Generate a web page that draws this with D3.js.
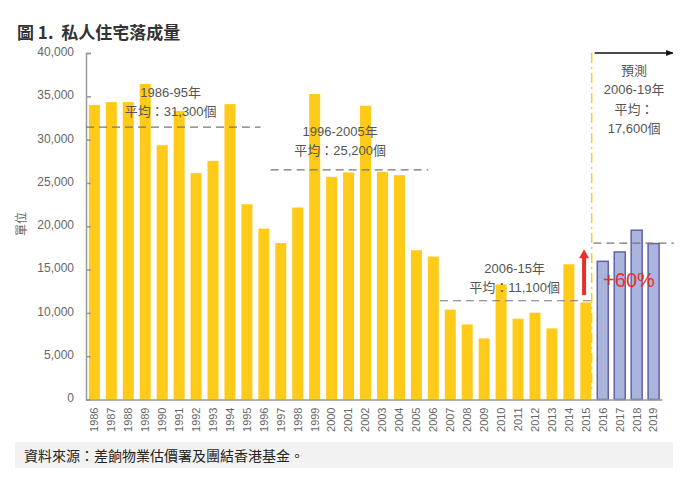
<!DOCTYPE html>
<html>
<head>
<meta charset="utf-8">
<script src="https://cdn.jsdelivr.net/npm/d3@7"></script>
<style>
  body { margin: 0; background: #fff; }
  svg { font-family: "Liberation Sans", Arial, "Noto Sans CJK TC", sans-serif; }
  .axis path, .axis line { stroke: #999; }
  .axis text { fill: #666; }
</style>
</head>
<body>
<div id="chart"></div>
<script>
/*
private housing completions, 1986-2019 (2016-19 forecast)
 */

//data:
var years = ["1986", "1987", "1988", "1989", "1990", "1991", "1992", "1993", "1994", "1995",
    "1996", "1997", "1998", "1999", "2000", "2001", "2002", "2003", "2004", "2005",
    "2006", "2007", "2008", "2009", "2010", "2011", "2012", "2013", "2014", "2015",
    "2016", "2017", "2018", "2019"];
var completions = [34000, 34330, 34330, 36420, 29360, 33290, 26130, 27550, 34100, 22540,
    19730, 18070, 22160, 35260, 25700, 26210, 33910, 26280, 25900, 17230,
    16500, 10370, 8670, 7050, 13290, 9330, 10020, 8210, 15610, 11210,
    15950, 17030, 19540, 18000];
var forecastYears = ["2016", "2017", "2018", "2019"];
var yTicks = [0, 5000, 10000, 15000, 20000, 25000, 30000, 35000, 40000];

//period averages (level = where the dashed line is drawn)
var avgPeriods = ["1986-95年", "1996-2005年", "2006-15年"];
var avgTexts = ["平均：31,300個", "平均：25,200個", "平均：11,100個"];
var avgLevels = [31450, 26500, 11400];
var avgSpans = [[1985.5, 1995.8], [1996.4, 2005.7], [2006.4, 2015.3]];
var avgLabelX = [1990.5, 2000.5, 2010.8];
var avgLabelY = [35500, 30900, 15150];

//forecast annotation
var forecastLines = ["預測", "2006-19年", "平均：", "17,600個"];
var forecastLevel = 18050;
var forecastSpan = [2015.45, 2020.2];
var forecastDivider = 2015.35;
var forecastLabelX = 2017.85;
var forecastLabelY = 37450;

//+60% arrow
var growthArrow = [12050, 17340];
var growthArrowX = 2014.9;
var growthText = "+60%";

var title = "圖 1.  私人住宅落成量";
var yAxisName = "單位";
var source = "資料來源：差餉物業估價署及團結香港基金。";

var width = 695, height = 482;
var plotLeft = 86, plotRight = 662, plotTop = 53, plotBottom = 399.5;

var svg = d3.select("#chart").append("svg")
    .attr("width", width)
    .attr("height", height);

//scales
var xScale = d3.scaleBand()
    .domain(years)
    .range([plotLeft, plotRight])
    .paddingInner(0.35)
    .paddingOuter(0.17);
//continuous year scale for annotations
var xYear = d3.scaleLinear()
    .domain([1985.5, 2019.5])
    .range([plotLeft, plotRight]);
var yScale = d3.scaleLinear()
    .domain([0, 40000])
    .range([plotBottom, plotTop]);

//title
svg.append("text")
    .attr("x", 17)
    .attr("y", 39)
    .attr("font-size", "17px")
    .attr("font-weight", "bold")
    .attr("fill", "#333")
    .attr("font-family", "'Noto Sans CJK TC', 'Liberation Sans', sans-serif")
    .style("white-space", "pre")
    .text(title);

//bars
svg.append("g").selectAll("rect")
    .data(years)
    .enter().append("rect")
    .attr("x", function (d) { return xScale(d); })
    .attr("width", xScale.bandwidth())
    .attr("y", function (d, i) { return yScale(completions[i]); })
    .attr("height", function (d, i) { return plotBottom - yScale(completions[i]); })
    .attr("fill", function (d) { return forecastYears.indexOf(d) >= 0 ? "#abb4dc" : "#ffca18"; })
    .attr("stroke", function (d) { return forecastYears.indexOf(d) >= 0 ? "#5e63ab" : "none"; })
    .attr("stroke-width", 1.5);

//axes
var yAxis = d3.axisLeft(yScale)
    .tickValues(yTicks)
    .tickSize(-5)
    .tickPadding(12)
    .tickFormat(d3.format(","));
var gy = svg.append("g")
    .attr("class", "axis")
    .attr("transform", "translate(" + plotLeft + ",0)")
    .call(yAxis);
gy.selectAll("path, line").attr("stroke-width", 1.5);
gy.selectAll("text").attr("font-size", "12px").attr("dy", "0.2em");

var xAxis = d3.axisBottom(xScale).tickSize(0).tickSizeOuter(0);
var gx = svg.append("g")
    .attr("class", "axis")
    .attr("transform", "translate(0," + plotBottom + ")")
    .call(xAxis);
gx.select("path").attr("stroke-width", 1.5);
gx.selectAll("text")
    .attr("font-size", "11px")
    .attr("transform", "rotate(-90)")
    .attr("x", -8)
    .attr("y", 0)
    .attr("dy", "0.35em")
    .style("text-anchor", "end");

//y axis name
svg.append("text")
    .attr("transform", "translate(26,224) rotate(-90)")
    .attr("text-anchor", "middle")
    .attr("font-size", "12px")
    .attr("fill", "#666")
    .text(yAxisName);

//average lines
svg.append("g").selectAll("line")
    .data(avgLevels)
    .enter().append("line")
    .attr("x1", function (d, i) { return xYear(avgSpans[i][0]); })
    .attr("x2", function (d, i) { return xYear(avgSpans[i][1]); })
    .attr("y1", function (d) { return yScale(d); })
    .attr("y2", function (d) { return yScale(d); })
    .attr("stroke", "#777")
    .attr("stroke-width", 1.2)
    .attr("stroke-dasharray", "8,5");

//average labels
var annot = svg.append("g")
    .attr("font-size", "13px")
    .attr("fill", "#555")
    .attr("text-anchor", "middle");
avgPeriods.forEach(function (p, i) {
    var t = annot.append("text")
        .attr("x", xYear(avgLabelX[i]))
        .attr("y", yScale(avgLabelY[i]))
        .attr("dy", "0.35em");
    t.append("tspan").attr("x", xYear(avgLabelX[i])).text(p);
    t.append("tspan").attr("x", xYear(avgLabelX[i])).attr("dy", 19).text(avgTexts[i]);
});

//forecast divider + arrow
svg.append("line")
    .attr("x1", xYear(forecastDivider))
    .attr("x2", xYear(forecastDivider))
    .attr("y1", plotTop)
    .attr("y2", plotBottom - 8)
    .attr("stroke", "#ffca18")
    .attr("stroke-width", 1.5)
    .attr("stroke-dasharray", "10,4,2,4");

svg.append("defs").append("marker")
    .attr("id", "arrowBlack")
    .attr("viewBox", "0 0 10 10")
    .attr("refX", 9).attr("refY", 5)
    .attr("markerWidth", 5).attr("markerHeight", 5)
    .attr("orient", "auto")
    .append("path")
    .attr("d", "M0,1L10,5L0,9Z")
    .attr("fill", "#111");

svg.append("line")
    .attr("x1", xYear(forecastDivider) + 3)
    .attr("x2", xYear(forecastSpan[1]) - 1)
    .attr("y1", plotTop)
    .attr("y2", plotTop)
    .attr("stroke", "#111")
    .attr("stroke-width", 1.5)
    .attr("marker-end", "url(#arrowBlack)");

//forecast average line
svg.append("line")
    .attr("x1", xYear(forecastSpan[0]))
    .attr("x2", xYear(forecastSpan[1]))
    .attr("y1", yScale(forecastLevel))
    .attr("y2", yScale(forecastLevel))
    .attr("stroke", "#777")
    .attr("stroke-width", 1.2)
    .attr("stroke-dasharray", "8,5");

var ft = annot.append("text")
    .attr("y", yScale(forecastLabelY))
    .attr("dy", "0.35em");
forecastLines.forEach(function (s, i) {
    ft.append("tspan")
        .attr("x", xYear(forecastLabelX))
        .attr("dy", i === 0 ? 0 : 19.3)
        .text(s);
});

//growth arrow
var ax = xYear(growthArrowX);
var yBase = yScale(growthArrow[0]);
var yTip = yScale(growthArrow[1]);
svg.append("line")
    .attr("x1", ax).attr("x2", ax)
    .attr("y1", yBase).attr("y2", yTip + 8)
    .attr("stroke", "#e8302a")
    .attr("stroke-width", 4);
svg.append("path")
    .attr("d", "M" + (ax - 5) + "," + (yTip + 9) + "L" + ax + "," + yTip + "L" + (ax + 5) + "," + (yTip + 9) + "Z")
    .attr("fill", "#e8302a");

svg.append("text")
    .attr("x", xYear(2017.55))
    .attr("y", yScale(13800))
    .attr("dy", "0.35em")
    .attr("text-anchor", "middle")
    .attr("font-size", "20px")
    .attr("fill", "#e8302a")
    .text(growthText);

//source box
svg.append("rect")
    .attr("x", 15).attr("y", 442)
    .attr("width", 658).attr("height", 26)
    .attr("fill", "#f2f2f2");
svg.append("text")
    .attr("x", 24).attr("y", 461)
    .attr("font-size", "14px")
    .attr("fill", "#222")
    .attr("font-family", "'Noto Sans CJK TC', sans-serif")
    .text(source);
</script>
</body>
</html>
